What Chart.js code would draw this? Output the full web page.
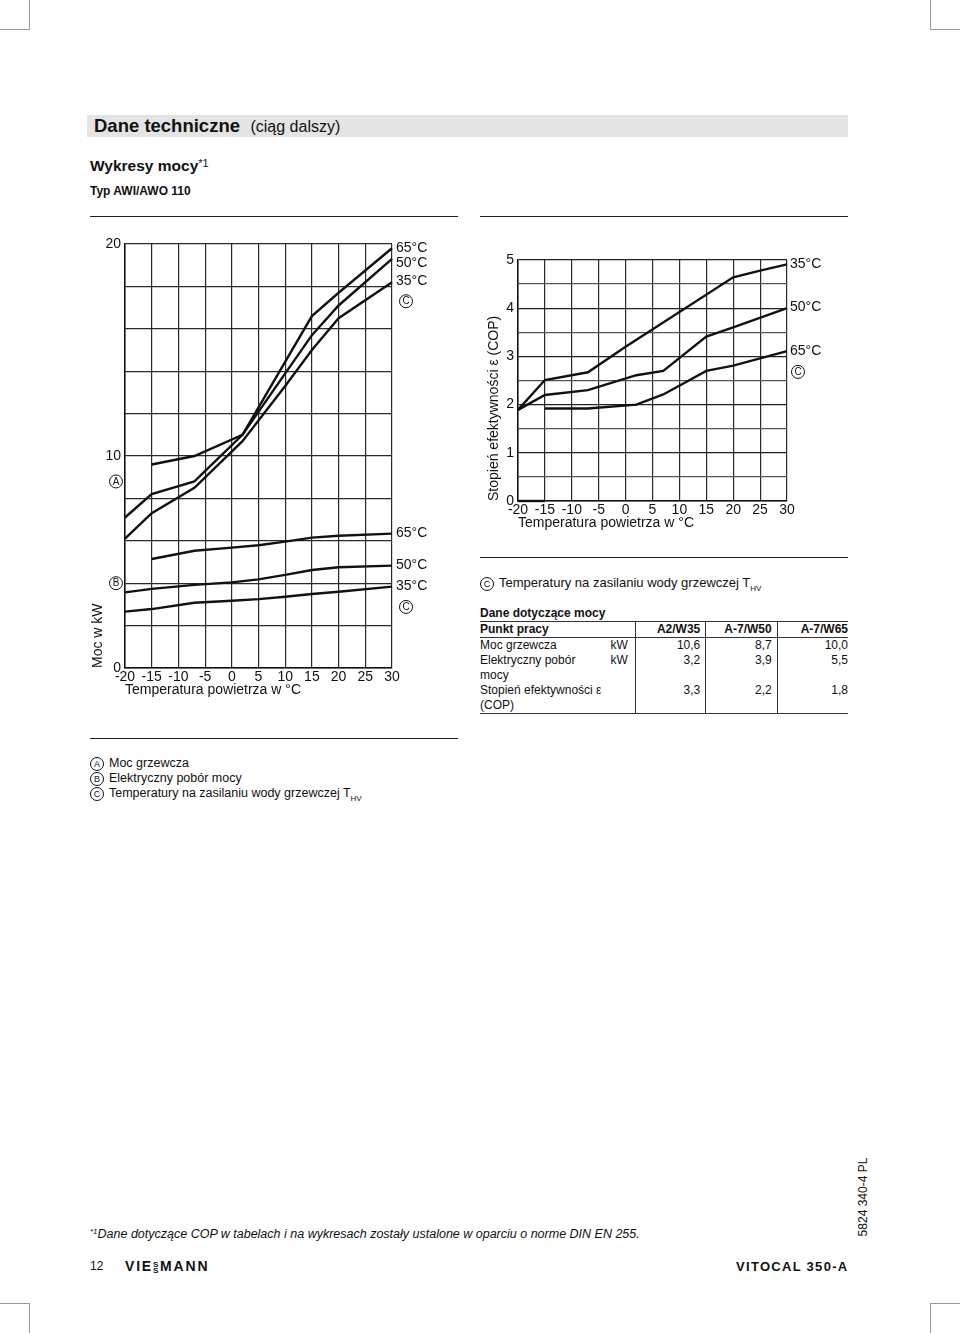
<!DOCTYPE html>
<html lang="pl">
<head>
<meta charset="utf-8">
<title>Wykresy mocy AWI/AWO 110</title>
<script src="https://cdn.jsdelivr.net/npm/chart.js@4.4.1/dist/chart.umd.min.js"></script>
<style>
  body { margin: 0; background: #fff; font-family: Arial, "Liberation Sans", sans-serif; color: #111; }
  #page { position: relative; width: 960px; height: 1333px; overflow: hidden; }
  .abs { position: absolute; white-space: nowrap; }
  .mark { position: absolute; border-color: #9a9a9a; border-style: solid; border-width: 0; }
  .rule { position: absolute; height: 0; border-top: 1.5px solid #222; }
  .circ { display: inline-block; width: 12px; height: 12px; border: 1px solid #111; border-radius: 50%;
          font-size: 9px; line-height: 12px; text-align: center; vertical-align: middle; margin-right: 5px; }
  table { border-collapse: collapse; font-size: 12px; }
  td { padding: 0; line-height: 15px; vertical-align: top; white-space: nowrap; }
  .num { text-align: right; padding-right: 5px; border-left: 1px solid #333; }
  .last { padding-right: 0; }
</style>
</head>
<body>
<div id="page">
  <!-- crop marks -->
  <div class="mark" style="left:0;top:0;width:29px;height:29px;border-right-width:1.5px;border-bottom-width:1.5px;"></div>
  <div class="mark" style="left:930px;top:0;width:30px;height:29px;border-left-width:1.5px;border-bottom-width:1.5px;"></div>
  <div class="mark" style="left:0;top:1303px;width:29px;height:30px;border-right-width:1.5px;border-top-width:1.5px;"></div>
  <div class="mark" style="left:930px;top:1303px;width:30px;height:30px;border-left-width:1.5px;border-top-width:1.5px;"></div>

  <!-- header -->
  <div class="abs" style="left:87px;top:115px;width:761px;height:22px;background:#e4e4e4;"></div>
  <div class="abs" style="left:94px;top:115px;line-height:22px;">
    <span style="font-size:18.5px;font-weight:bold;">Dane techniczne</span>
    <span style="font-size:16px;margin-left:6px;">(ciąg dalszy)</span>
  </div>
  <div class="abs" style="left:90px;top:157px;font-size:15.5px;font-weight:bold;">Wykresy mocy<span style="font-size:11px;font-weight:normal;vertical-align:4px;">*1</span></div>
  <div class="abs" style="left:90px;top:184px;font-size:12px;font-weight:bold;">Typ AWI/AWO 110</div>

  <!-- rules -->
  <div class="rule" style="left:90px;top:216px;width:368px;"></div>
  <div class="rule" style="left:480px;top:216px;width:368px;"></div>
  <div class="rule" style="left:480px;top:557px;width:368px;"></div>
  <div class="rule" style="left:90px;top:738px;width:368px;"></div>

  <!-- charts -->
  <div class="abs" style="left:80px;top:230px;width:360px;height:480px;"><canvas id="powerChart" width="360" height="480"></canvas></div>
  <div class="abs" style="left:480px;top:240px;width:370px;height:300px;"><canvas id="copChart" width="370" height="300"></canvas></div>

  <!-- note under COP chart -->
  <div class="abs" style="left:480px;top:575px;font-size:13px;line-height:16px;"><span class="circ">C</span>Temperatury na zasilaniu wody grzewczej T<sub style="font-size:8px;">HV</sub></div>

  <!-- table -->
  <div class="abs" style="left:480px;top:605px;font-size:12px;font-weight:bold;line-height:16px;">Dane dotyczące mocy</div>
  <table class="abs" style="left:480px;top:621px;width:368px;">
    <tr style="border-top:1px solid #333;border-bottom:1px solid #333;font-weight:bold;">
      <td style="width:128px;">Punkt pracy</td><td style="width:28px;"></td>
      <td class="num" style="width:65px;">A2/W35</td>
      <td class="num" style="width:66px;">A-7/W50</td>
      <td class="num last" style="width:71px;">A-7/W65</td>
    </tr>
    <tr>
      <td>Moc grzewcza</td><td style="text-align:right;padding-right:7px;">kW</td>
      <td class="num">10,6</td><td class="num">8,7</td><td class="num last">10,0</td>
    </tr>
    <tr>
      <td>Elektryczny pobór<br>mocy</td><td style="text-align:right;padding-right:7px;">kW</td>
      <td class="num">3,2</td><td class="num">3,9</td><td class="num last">5,5</td>
    </tr>
    <tr style="border-bottom:1px solid #333;">
      <td colspan="2">Stopień efektywności ε<br>(COP)</td>
      <td class="num">3,3</td><td class="num">2,2</td><td class="num last">1,8</td>
    </tr>
  </table>

  <!-- legend -->
  <div class="abs" style="left:90px;top:756px;font-size:12.5px;line-height:15px;">
    <div><span class="circ">A</span>Moc grzewcza</div>
    <div><span class="circ">B</span>Elektryczny pobór mocy</div>
    <div><span class="circ">C</span>Temperatury na zasilaniu wody grzewczej T<sub style="font-size:8px;">HV</sub></div>
  </div>

  <!-- footnote and footer -->
  <div class="abs" style="left:90px;top:1227px;font-size:12.5px;font-style:italic;font-family:'Liberation Sans Narrow','Arial Narrow',Arial,sans-serif;"><span style="font-size:8px;vertical-align:4px;">*1</span>Dane dotyczące COP w tabelach i na wykresach zostały ustalone w oparciu o norme DIN EN 255.</div>
  <div class="abs" style="left:90px;top:1259px;font-size:12px;">12</div>
  <div class="abs" style="left:125px;top:1258px;font-size:14px;font-weight:bold;letter-spacing:1.8px;">VIE<span style="display:inline-block;font-size:8px;line-height:6px;vertical-align:-2px;text-align:center;">S<br>S</span>MANN</div>
  <div class="abs" style="left:736px;top:1259px;font-size:13px;font-weight:bold;letter-spacing:1.3px;">VITOCAL 350-A</div>
  <div class="abs" style="left:823px;top:1190px;width:80px;font-size:12px;transform:rotate(-90deg);text-align:center;">5824 340-4 PL</div>
</div>

<script>
// temperatura powietrza (oś X obu wykresów)
const tempTicks = [-20, -15, -10, -5, 0, 5, 10, 15, 20, 25, 30];

// moc w kW - siatka co 2, opisane tylko 0/10/20
const powerTicks = [0, 2, 4, 6, 8, 10, 12, 14, 16, 18, 20];
const powerLabelled = [0, 10, 20];

// COP - siatka co 0,5, opisane liczby całkowite
const copTicks = [0, 0.5, 1, 1.5, 2, 2.5, 3, 3.5, 4, 4.5, 5];
const copLabelled = [0, 1, 2, 3, 4, 5];

// (A) moc grzewcza
const heat65Temp = [-15, -7, 2, 15, 20, 30];
const heat65 = [9.6, 10.0, 11.0, 16.6, 17.7, 19.8];
const heat50Temp = [-20, -15, -7, 2, 15, 20, 30];
const heat50 = [7.1, 8.2, 8.8, 11.0, 15.7, 17.1, 19.3];
const heat35Temp = [-20, -15, -7, 2, 10, 15, 20, 30];
const heat35 = [6.1, 7.3, 8.5, 10.7, 13.3, 15.0, 16.5, 18.2];

// (B) elektryczny pobór mocy
const elec65Temp = [-15, -7, 0, 5, 10, 15, 20, 30];
const elec65 = [5.14, 5.53, 5.68, 5.79, 5.96, 6.15, 6.24, 6.34];
const elecTemp = [-20, -15, -7, 0, 5, 10, 15, 20, 30];
const elec50 = [3.57, 3.73, 3.92, 4.04, 4.18, 4.39, 4.62, 4.75, 4.83];
const elec35 = [2.66, 2.78, 3.08, 3.17, 3.25, 3.36, 3.49, 3.60, 3.84];

// stopień efektywności (COP)
const cop35Temp = [-20, -15, -7, 0, 20, 25, 30];
const cop35 = [1.89, 2.51, 2.67, 3.2, 4.64, 4.78, 4.91];
const cop50Temp = [-20, -15, -7, 2, 7, 15, 20, 30];
const cop50 = [1.89, 2.2, 2.3, 2.61, 2.7, 3.41, 3.6, 4.0];
const cop65Temp = [-15, -7, 2, 7, 15, 20, 30];
const cop65 = [1.92, 1.92, 2.0, 2.21, 2.7, 2.81, 3.11];
const copBaseTemp = [-20, -15];
const copBase = [0, 0];

const FONT = 'Arial, "Liberation Sans", sans-serif';
const pts = (xs, ys) => xs.map((x, i) => ({ x: x, y: ys[i] }));
const line = (xs, ys) => ({
    data: pts(xs, ys),
    borderColor: '#111',
    borderWidth: 2.4,
    pointRadius: 0,
    tension: 0,
    clip: 4
});

// opisy przy krzywych (°C, kółka z literami)
const notesPlugin = {
    id: 'notes',
    afterDraw(chart, args, opts) {
        const ctx = chart.ctx;
        const area = chart.chartArea;
        const y = chart.scales.y;
        ctx.save();
        ctx.fillStyle = '#111';
        ctx.strokeStyle = '#111';
        ctx.textBaseline = 'middle';
        (opts.labels || []).forEach(n => {
            ctx.font = '14px ' + FONT;
            ctx.textAlign = 'left';
            ctx.fillText(n.text, area.right + opts.dx, y.getPixelForValue(n.v));
        });
        (opts.circles || []).forEach(n => {
            const cx = n.side === 'left' ? area.left - 9 : area.right + opts.cdx;
            const cy = y.getPixelForValue(n.v);
            ctx.lineWidth = 1;
            ctx.beginPath();
            ctx.arc(cx, cy, 6.5, 0, Math.PI * 2);
            ctx.stroke();
            ctx.font = '10px ' + FONT;
            ctx.textAlign = 'center';
            ctx.fillText(n.text, cx, cy + 0.5);
        });
        ctx.restore();
    }
};

const xScale = (height) => ({
    type: 'linear',
    min: -20,
    max: 30,
    afterBuildTicks: s => { s.ticks = tempTicks.map(v => ({ value: v })); },
    afterFit: s => { s.height = height; },
    grid: { color: '#2a2a2a', lineWidth: 1.2, drawTicks: false },
    border: { color: '#111', width: 1.5 },
    ticks: { padding: 1, color: '#111', font: { family: FONT, size: 14 }, maxRotation: 0, autoSkip: false },
    title: { display: true, text: 'Temperatura powietrza w °C', align: 'start', color: '#111',
             font: { family: FONT, size: 14 }, padding: { top: 4, bottom: 4 } }
});

new Chart(document.getElementById('powerChart'), {
    type: 'line',
    data: {
        datasets: [
            line(heat65Temp, heat65), line(heat50Temp, heat50), line(heat35Temp, heat35),
            line(elec65Temp, elec65), line(elecTemp, elec50), line(elecTemp, elec35)
        ]
    },
    plugins: [notesPlugin],
    options: {
        responsive: false,
        animation: false,
        layout: { padding: { left: 6, top: 14, right: 48, bottom: 7 } },
        plugins: {
            legend: { display: false },
            tooltip: { enabled: false },
            notes: {
                dx: 4, cdx: 14,
                labels: [
                    { text: '65°C', v: 19.8 }, { text: '50°C', v: 19.1 }, { text: '35°C', v: 18.25 },
                    { text: '65°C', v: 6.37 }, { text: '50°C', v: 4.86 }, { text: '35°C', v: 3.87 }
                ],
                circles: [
                    { text: 'C', v: 17.3 }, { text: 'C', v: 2.88 },
                    { text: 'A', v: 8.8, side: 'left' }, { text: 'B', v: 4.0, side: 'left' }
                ]
            }
        },
        scales: {
            x: xScale(35),
            y: {
                type: 'linear',
                min: 0,
                max: 20,
                afterBuildTicks: s => { s.ticks = powerTicks.map(v => ({ value: v })); },
                afterFit: s => { s.width = 39; },
                grid: { color: '#2a2a2a', lineWidth: 1.2, drawTicks: false },
                border: { color: '#111', width: 1.5 },
                ticks: {
                    padding: 4, color: '#111', font: { family: FONT, size: 14 },
                    callback: v => powerLabelled.includes(v) ? String(v) : ''
                },
                title: { display: true, text: 'Moc w kW', align: 'start', color: '#111',
                         font: { family: FONT, size: 14 }, padding: { top: 4, bottom: 4 } }
            }
        }
    }
});

new Chart(document.getElementById('copChart'), {
    type: 'line',
    data: {
        datasets: [
            line(cop35Temp, cop35), line(cop50Temp, cop50), line(cop65Temp, cop65),
            line(copBaseTemp, copBase)
        ]
    },
    plugins: [notesPlugin],
    options: {
        responsive: false,
        animation: false,
        layout: { padding: { left: 2, top: 20, right: 63, bottom: 4 } },
        plugins: {
            legend: { display: false },
            tooltip: { enabled: false },
            notes: {
                dx: 3, cdx: 11,
                labels: [
                    { text: '35°C', v: 4.92 }, { text: '50°C', v: 4.02 }, { text: '65°C', v: 3.11 }
                ],
                circles: [{ text: 'C', v: 2.68 }]
            }
        },
        scales: {
            x: xScale(35),
            y: {
                type: 'linear',
                min: 0,
                max: 5,
                afterBuildTicks: s => { s.ticks = copTicks.map(v => ({ value: v })); },
                afterFit: s => { s.width = 36; },
                grid: {
                    color: c => Number.isInteger(c.tick.value) ? '#222' : '#555',
                    lineWidth: 1.2, drawTicks: false
                },
                border: { color: '#111', width: 1.5 },
                ticks: {
                    padding: 4, color: '#111', font: { family: FONT, size: 14 },
                    callback: v => copLabelled.includes(v) ? String(v) : ''
                },
                title: { display: true, text: 'Stopień efektywności ε (COP)', align: 'start', color: '#111',
                         font: { family: FONT, size: 14 }, padding: { top: 4, bottom: 4 } }
            }
        }
    }
});
</script>
</body>
</html>
